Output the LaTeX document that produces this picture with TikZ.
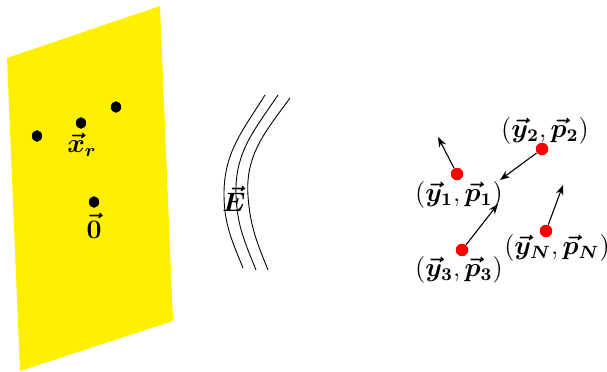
\documentclass[tikz,border=0pt]{standalone}
\usepackage{amsmath,bm}
\usetikzlibrary{arrows.meta,shapes.geometric}
\definecolor{plate}{RGB}{255,240,0}
\begin{document}
\begin{tikzpicture}[x=0.45pt,y=-0.45pt,
  bdot/.style={ellipse,fill=black,inner sep=0pt,minimum width=4.6pt,minimum height=5.2pt},
  rdot/.style={circle,fill=red,inner sep=0pt,minimum size=5.6pt},
  arr/.style={-{Stealth[length=4.5pt,width=3.4pt]},line width=0.5pt},
  wave/.style={line width=0.4pt},
  lab/.style={inner sep=0pt,font=\large}]
\useasboundingbox (0,0) rectangle (607,372);
\fill[plate] (7,58) -- (160,6) -- (173,321) -- (20,371) -- cycle;
\node[bdot] (d1) at (37,136) {};
\node[bdot] (xr) at (81,123) {};
\node[bdot] (d3) at (116,107) {};
\node[bdot] (o) at (94,202) {};
\node[lab] (xrl) at (82,145) {$\bm{\vec{x}_r}$};
\node[lab] (ol) at (94,226) {$\bm{\vec{0}}$};
% wave fronts
\draw[wave] (265,95) to[out=238,in=90] (224,194) to[out=-90,in=112] (243,268);
\draw[wave] (278,95) to[out=236,in=92] (236,195) to[out=-88,in=112] (256,270);
\draw[wave] (290,98) to[out=234,in=94] (248,196) to[out=-86,in=112] (268,270);
\node[lab] (E) at (234,199) {$\bm{\vec{E}}$};
% particles
\node[rdot] (p1) at (457,174) {};
\node[rdot] (p2) at (542,149) {};
\node[rdot] (p3) at (462,250) {};
\node[rdot] (pN) at (546,231) {};
\coordinate (t1) at (438,137);
\coordinate (t2) at (500,180);
\coordinate (t3) at (498,204);
\coordinate (tN) at (563,185);
\draw[arr] (p1) -- (t1);
\draw[arr] (p2) -- (t2);
\draw[arr] (p3) -- (t3);
\draw[arr] (pN) -- (tN);
\node[lab] (l1) at (459,195) {$(\bm{\vec{y}_1},\bm{\vec{p}_1})$};
\node[lab] (l2) at (545,131) {$(\bm{\vec{y}_2},\bm{\vec{p}_2})$};
\node[lab] (l3) at (459,270) {$(\bm{\vec{y}_3},\bm{\vec{p}_3})$};
\node[lab] (lN) at (557,248) {$(\bm{\vec{y}_N},\bm{\vec{p}_N})$};
\end{tikzpicture}
\end{document}
